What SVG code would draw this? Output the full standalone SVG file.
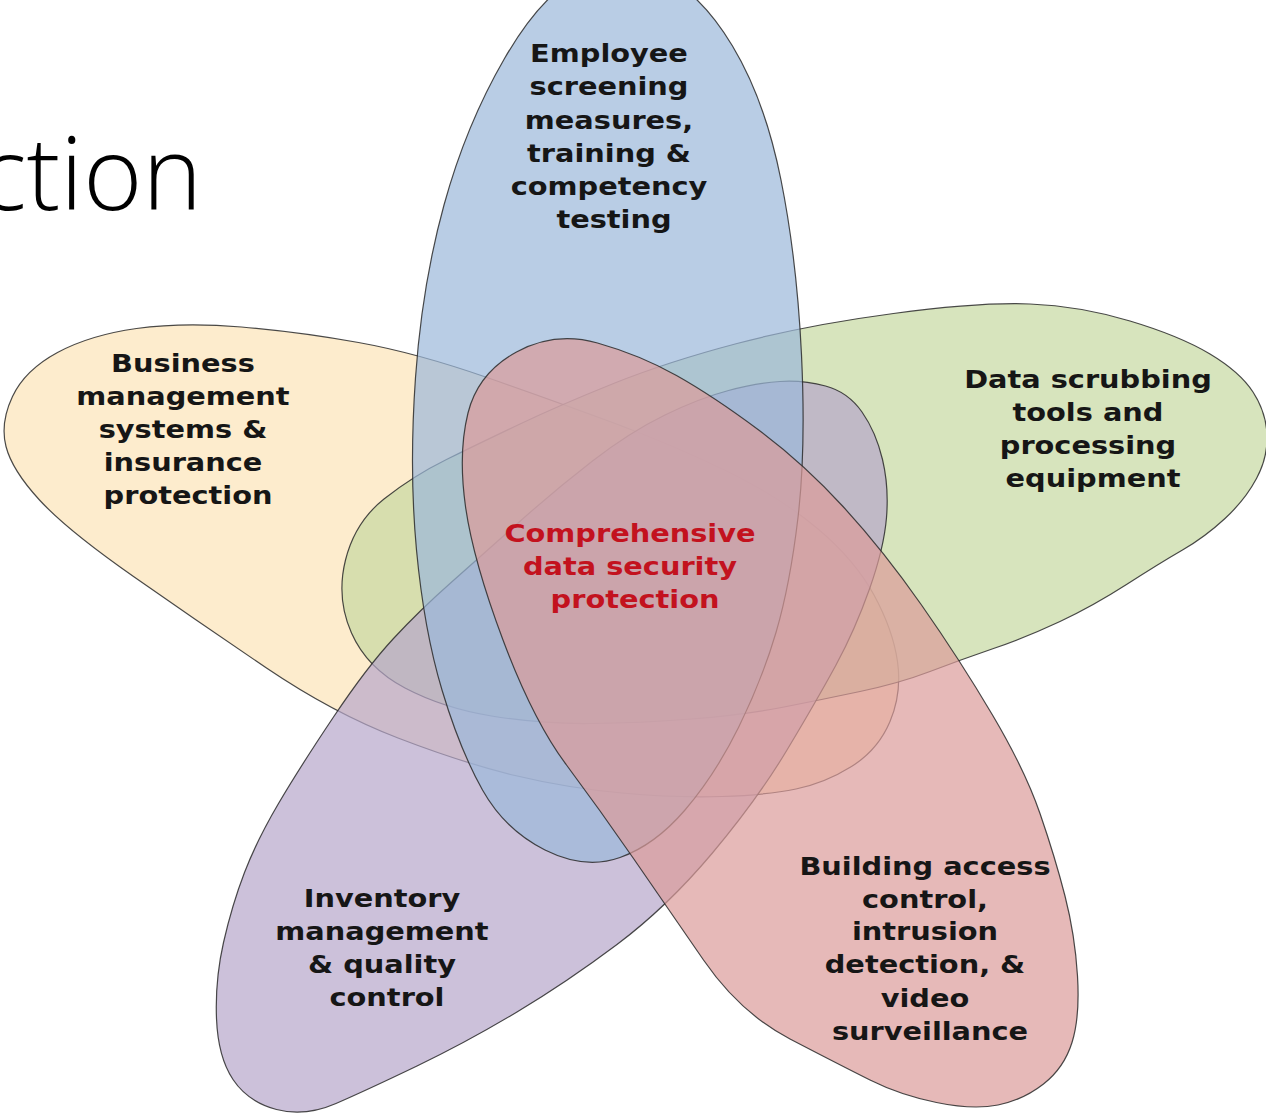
<svg xmlns="http://www.w3.org/2000/svg" width="1266" height="1116" viewBox="0 0 1266 1116">
  <style>
    .petal { stroke: #2a2a2a; stroke-width: 1.2; stroke-opacity: 0.85; fill-opacity: 0.7; }
    .lbl { font-family: "DejaVu Sans", Verdana, sans-serif; font-weight: bold; font-size: 24px; fill: #161616; text-anchor: middle; }
    .core { fill: #c3121e; }
    .title { font-family: "Open Sans", "Noto Sans", sans-serif; font-weight: 300; font-size: 101px; fill: #000; }
  </style>
  <rect width="1266" height="1116" fill="#fff"/>

  <text class="title" x="202" y="210" text-anchor="end">ction</text>

  <!-- petals: five overlapping translucent lobes, drawn bottom to top -->
  <g id="business">
    <path class="petal" fill="#fce4b8" d="M6,446.5 Q0,423 12.5,396.5 Q25,370 57.5,352.5 Q90,335 136.5,328.5 Q183,322 241.5,327 Q300,332 358.5,342.5 Q417,353 488.5,378 Q560,403 616.5,424 Q673,445 726.5,471 Q780,497 817.5,528.5 Q855,560 874,595 Q893,630 897.5,661.5 Q902,693 890,721.5 Q878,750 851.5,766.5 Q825,783 796,789 Q767,795 722,796.5 Q677,798 622,793 Q567,788 515,775.5 Q463,763 398,738 Q333,713 266.5,668 Q200,623 133.5,576.5 Q67,530 39.5,500 Q12,470 6,446.5 Z"/>
  </g>
  <g id="scrubbing">
    <path class="petal" fill="#c6d8a1" d="M351.5,633 Q336,598 345.5,560 Q355,522 384,499 Q413,476 446.5,459.5 Q480,443 520,424 Q560,405 613.5,383.5 Q667,362 737,343.5 Q807,325 893.5,313.5 Q980,302 1030,304 Q1080,306 1130,321 Q1180,336 1210,354 Q1240,372 1253,392 Q1266,412 1267,434.5 Q1268,457 1256.5,478.5 Q1245,500 1225,518.5 Q1205,537 1182.5,550 Q1160,563 1126.5,584.5 Q1093,606 1060,621.5 Q1027,637 993.5,648.5 Q960,660 930,671.5 Q900,683 860,691.5 Q820,700 781.5,707.5 Q743,715 691.5,719 Q640,723 590,723.5 Q540,724 491.5,716 Q443,708 405,688 Q367,668 351.5,633 Z"/>
  </g>
  <g id="inventory">
    <path class="petal" fill="#b6a6ca" d="M780,381.5 Q803,380 825.5,386 Q848,392 862,412 Q876,432 882.5,459.5 Q889,487 886.5,517.5 Q884,548 869.5,589 Q855,630 836,665 Q817,700 787,750 Q757,800 712,853.5 Q667,907 617,944.5 Q567,982 517,1012 Q467,1042 417,1066 Q367,1090 336,1103.5 Q305,1117 276.5,1109.5 Q248,1102 233,1079.5 Q218,1057 216.5,1018.5 Q215,980 223.5,942.5 Q232,905 244.5,872.5 Q257,840 278.5,803.5 Q300,767 333.5,717 Q367,667 393.5,638.5 Q420,610 450,583.5 Q480,557 517.5,523.5 Q555,490 592.5,461 Q630,432 665,415 Q700,398 728.5,390.5 Q757,383 780,381.5 Z"/>
  </g>
  <g id="employee">
    <path class="petal" fill="#9bb8da" d="M582.5,-25 Q622,-42 661,-25 Q700,-8 732.5,46 Q765,100 781,180 Q797,260 801.5,355 Q806,450 798,517.5 Q790,585 776,632.5 Q762,680 738.5,727.5 Q715,775 685,810 Q655,845 620,857.5 Q585,870 545,850 Q505,830 482.5,790 Q460,750 442,690 Q424,630 416.5,550 Q409,470 415.5,377.5 Q422,285 444,205 Q466,125 504.5,58.5 Q543,-8 582.5,-25 Z"/>
  </g>
  <g id="building">
    <path class="petal" fill="#db9b9a" d="M516.5,352 Q555,331 597.5,343 Q640,355 676.5,375.5 Q713,396 758,429.5 Q803,463 843,506.5 Q883,550 921.5,605 Q960,660 992.5,715 Q1025,770 1040,813.5 Q1055,857 1065,896 Q1075,935 1077.5,976 Q1080,1017 1072,1042.5 Q1064,1068 1043.5,1084 Q1023,1100 998,1105 Q973,1110 936.5,1102.5 Q900,1095 870,1080 Q840,1065 790,1039 Q740,1013 703.5,960 Q667,907 633.5,858.5 Q600,810 566.5,765 Q533,720 503,640 Q473,560 465.5,506.5 Q458,453 468,413 Q478,373 516.5,352 Z"/>
  </g>

  <!-- labels -->
  <g id="labels">
    <text class="lbl" transform="translate(614,0) scale(1.2,1)">
      <tspan x="0" y="62">Employee</tspan>
      <tspan x="0" y="95.5">screening</tspan>
      <tspan x="0" y="129">measures,</tspan>
      <tspan x="0" y="162">training &amp;</tspan>
      <tspan x="0" y="195">competency</tspan>
      <tspan x="0" y="228">testing</tspan>
    </text>
    <text class="lbl" transform="translate(188,0) scale(1.2,1)">
      <tspan x="0" y="372">Business</tspan>
      <tspan x="0" y="405">management</tspan>
      <tspan x="0" y="438">systems &amp;</tspan>
      <tspan x="0" y="471">insurance</tspan>
      <tspan x="0" y="504">protection</tspan>
    </text>
    <text class="lbl" transform="translate(1093,0) scale(1.2,1)">
      <tspan x="0" y="388">Data scrubbing</tspan>
      <tspan x="0" y="421">tools and</tspan>
      <tspan x="0" y="454">processing</tspan>
      <tspan x="0" y="487">equipment</tspan>
    </text>
    <text class="lbl core" transform="translate(635,0) scale(1.2,1)">
      <tspan x="0" y="542">Comprehensive</tspan>
      <tspan x="0" y="575">data security</tspan>
      <tspan x="0" y="608">protection</tspan>
    </text>
    <text class="lbl" transform="translate(387,0) scale(1.2,1)">
      <tspan x="0" y="907">Inventory</tspan>
      <tspan x="0" y="940">management</tspan>
      <tspan x="0" y="973">&amp; quality</tspan>
      <tspan x="0" y="1006">control</tspan>
    </text>
    <text class="lbl" transform="translate(930,0) scale(1.2,1)">
      <tspan x="0" y="875">Building access</tspan>
      <tspan x="0" y="908">control,</tspan>
      <tspan x="0" y="940">intrusion</tspan>
      <tspan x="0" y="973">detection, &amp;</tspan>
      <tspan x="0" y="1007">video</tspan>
      <tspan x="0" y="1040">surveillance</tspan>
    </text>
  </g>
</svg>
